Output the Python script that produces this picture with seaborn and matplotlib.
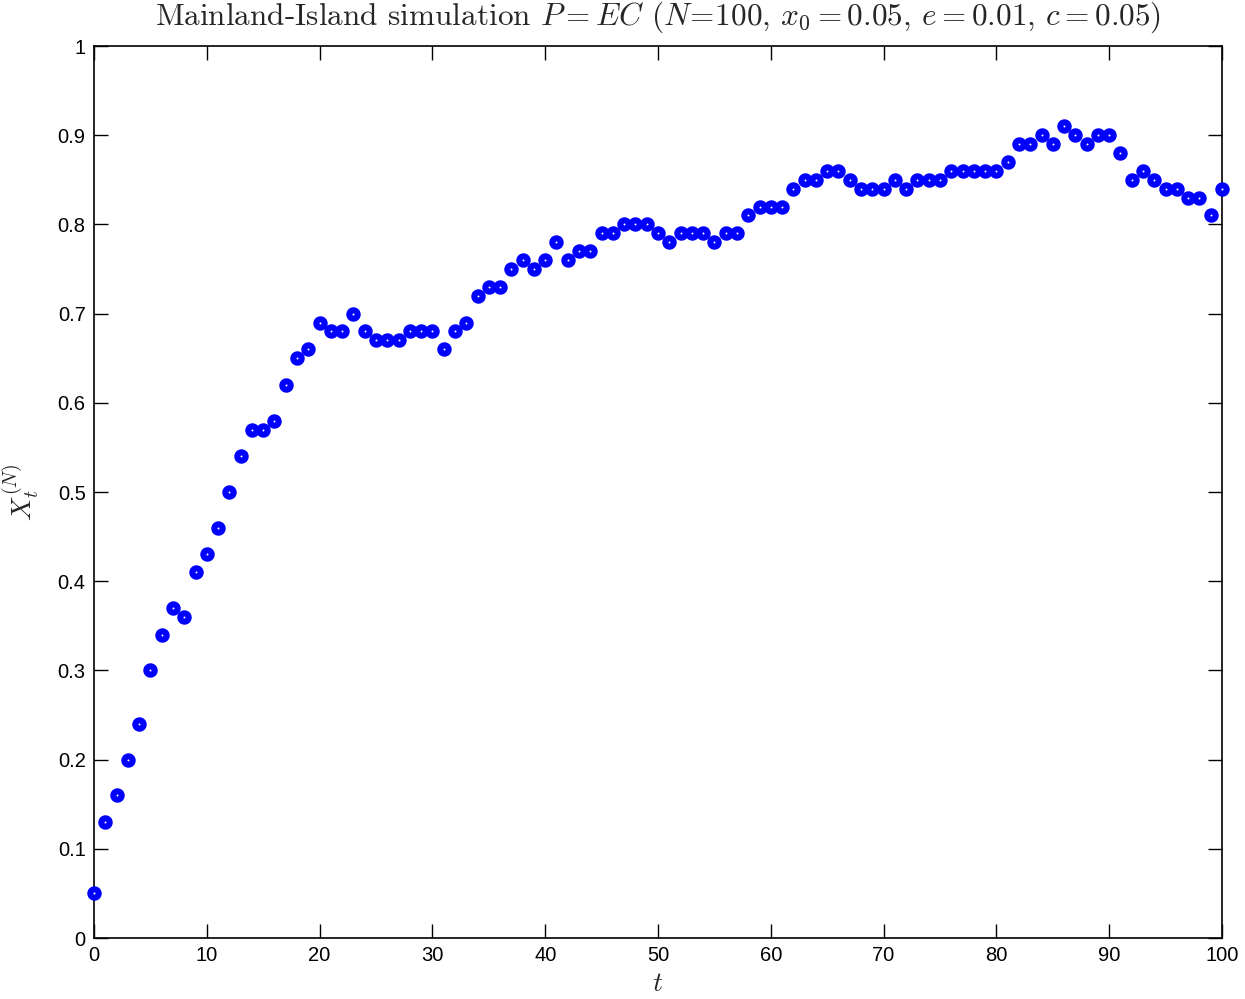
import matplotlib
matplotlib.use("Agg")
import matplotlib.pyplot as plt
import seaborn as sns
import numpy as np
import pandas as pd

t = list(range(0, 101))
x = [0.05, 0.13, 0.16, 0.20, 0.24, 0.30, 0.34, 0.37, 0.36, 0.41,
     0.43, 0.46, 0.50, 0.54, 0.57, 0.57, 0.58, 0.62, 0.65, 0.66,
     0.69, 0.68, 0.68, 0.70, 0.68, 0.67, 0.67, 0.67, 0.68, 0.68,
     0.68, 0.66, 0.68, 0.69, 0.72, 0.73, 0.73, 0.75, 0.76, 0.75,
     0.76, 0.78, 0.76, 0.77, 0.77, 0.79, 0.79, 0.80, 0.80, 0.80,
     0.79, 0.78, 0.79, 0.79, 0.79, 0.78, 0.79, 0.79, 0.81, 0.82,
     0.82, 0.82, 0.84, 0.85, 0.85, 0.86, 0.86, 0.85, 0.84, 0.84,
     0.84, 0.85, 0.84, 0.85, 0.85, 0.85, 0.86, 0.86, 0.86, 0.86,
     0.86, 0.87, 0.89, 0.89, 0.90, 0.89, 0.91, 0.90, 0.89, 0.90,
     0.90, 0.88, 0.85, 0.86, 0.85, 0.84, 0.84, 0.83, 0.83, 0.81,
     0.84]
xticks = [0, 10, 20, 30, 40, 50, 60, 70, 80, 90, 100]
yticks = [0, 0.1, 0.2, 0.3, 0.4, 0.5, 0.6, 0.7, 0.8, 0.9, 1]
ytick_labels = ["0", "0.1", "0.2", "0.3", "0.4", "0.5", "0.6", "0.7", "0.8", "0.9", "1"]
title = r"Mainland-Island simulation $P = EC$ ($N\!=\!100$, $x_0 = 0.05$, $e = 0.01$, $c = 0.05$)"

df = pd.DataFrame({"t": t, "x": x})

sns.set_theme(style="white")
plt.rcParams["font.family"] = ["Liberation Sans", "DejaVu Sans"]
plt.rcParams["mathtext.fontset"] = "cm"

fig = plt.figure(figsize=(12.45, 9.99), dpi=100)
ax = fig.add_axes([94/1245, 61/999, (1222-94)/1245, (938-46)/999])

sns.scatterplot(data=df, x="t", y="x", ax=ax, marker="o", s=6**2,
                color="white", edgecolor="#0000ff", linewidth=4.4, zorder=3,
                clip_on=False, legend=False)

ax.set_xlim(0, 100)
ax.set_ylim(0, 1)
ax.set_xticks(xticks)
ax.set_xticklabels([str(v) for v in xticks])
ax.set_yticks(yticks)
ax.set_yticklabels(ytick_labels)
ax.tick_params(direction="in", length=10, width=1, top=True, right=True,
               labelsize=14.5, colors="black", pad=6,
               bottom=True, left=True)
for s in ax.spines.values():
    s.set_color("black")
    s.set_linewidth(1.2)

ax.set_xlabel("$t$", fontsize=20, labelpad=4)
ax.set_ylabel("$X_t^{(N)}$", fontsize=20, labelpad=12)
fig.text((94 + 1222) / 2 / 1245, 1 - 17 / 999, title, fontsize=22.5,
         family="cmr10", ha="center", va="center")

fig.savefig("out.png", dpi=100)
